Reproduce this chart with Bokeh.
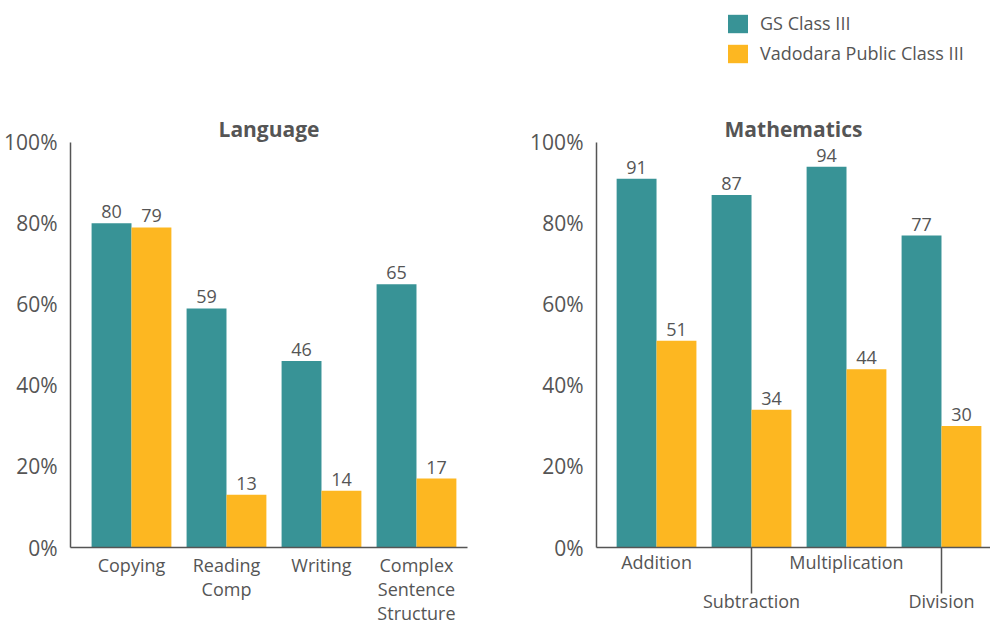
from bokeh.plotting import figure
from bokeh.layouts import row
from bokeh.models import (Range1d, FixedTicker, Label, Legend, LegendItem,
                          ColumnDataSource, PrintfTickFormatter)
from bokeh.embed import file_html
from bokeh.resources import INLINE
from bokeh.core.properties import value

# ---------------- data ----------------
series = ["GS Class III", "Vadodara Public Class III"]

lang_title = "Language"
lang_categories = ["Copying", "Reading\nComp", "Writing", "Complex\nSentence\nStructure"]
lang_gs = [80, 59, 46, 65]
lang_vad = [79, 13, 14, 17]

math_title = "Mathematics"
math_categories = ["Addition", "Subtraction", "Multiplication", "Division"]
math_gs = [91, 87, 94, 77]
math_vad = [51, 34, 44, 30]

y_ticks = [0, 20, 40, 60, 80, 100]

# ---------------- style ----------------
TEAL = "#389396"
GOLD = "#FDB721"
TXT = "#555555"
FONT = "Open Sans"
H = 627
BOTTOM = 78
Y_END = 135.0
BAR_W = 0.42
OFF = 0.21


def make_panel(title, cats, gs, vad, width, left_border, right_border, x_start, x_end):
    p = figure(width=width, height=H, output_backend="svg", toolbar_location=None,
               x_range=Range1d(x_start, x_end), y_range=Range1d(0, Y_END),
               min_border_left=left_border, min_border_right=right_border,
               min_border_top=0, min_border_bottom=BOTTOM)
    p.outline_line_color = None
    p.xgrid.visible = False
    p.ygrid.visible = False

    idx = list(range(len(cats)))
    src = ColumnDataSource(dict(
        x=idx, gs=gs, vad=vad,
        xg=[i - OFF for i in idx], xv=[i + OFF for i in idx],
        gs_t=[str(v) for v in gs], vad_t=[str(v) for v in vad]))

    r1 = p.vbar(x="xg", top="gs", width=BAR_W, bottom=0, source=src,
                fill_color=TEAL, line_color=None)
    r2 = p.vbar(x="xv", top="vad", width=BAR_W, bottom=0, source=src,
                fill_color=GOLD, line_color=None)
    for xc, yc, tc in (("xg", "gs", "gs_t"), ("xv", "vad", "vad_t")):
        p.text(x=xc, y=yc, text=tc, source=src, text_align="center",
               text_baseline="bottom", y_offset=-5, text_color=TXT,
               text_font=value(FONT), text_font_size="18px")

    p.add_layout(Label(x=(x_start + x_end) / 2, y=103.4, text=title,
                       text_align="center", text_baseline="middle",
                       text_font=FONT, text_font_style="bold",
                       text_font_size="21px", text_color=TXT))

    ya = p.yaxis[0]
    ya.ticker = FixedTicker(ticks=y_ticks)
    ya.formatter = PrintfTickFormatter(format="%d%%")
    ya.bounds = (0, 100)
    ya.major_tick_line_color = None
    ya.minor_tick_line_color = None
    ya.axis_line_color = TXT
    ya.axis_line_width = 1.5
    ya.major_label_standoff = 7
    ya.major_label_text_font = FONT
    ya.major_label_text_font_size = "21px"
    ya.major_label_text_color = TXT

    xa = p.xaxis[0]
    xa.axis_line_color = TXT
    xa.axis_line_width = 1.5
    xa.major_tick_line_color = None
    xa.major_label_text_font = FONT
    xa.major_label_text_font_size = "18px"
    xa.major_label_text_color = TXT
    return p, r1, r2


# Language panel
p1, _, _ = make_panel(lang_title, lang_categories, lang_gs, lang_vad,
                      width=500, left_border=70, right_border=33,
                      x_start=-0.642, x_end=3.537)
xa1 = p1.xaxis[0]
xa1.ticker = FixedTicker(ticks=list(range(len(lang_categories))))
xa1.major_label_overrides = {i: c for i, c in enumerate(lang_categories)}
xa1.minor_tick_line_color = None
xa1.major_label_text_line_height = 1.0
xa1.major_label_standoff = -1

# Mathematics panel
p2, r1, r2 = make_panel(math_title, math_categories, math_gs, math_vad,
                        width=490, left_border=96, right_border=0,
                        x_start=-0.632, x_end=3.516)
xa2 = p2.xaxis[0]
xa2.ticker = FixedTicker(ticks=list(range(len(math_categories))),
                         minor_ticks=[i for i in range(len(math_categories)) if i % 2 == 1])
xa2.major_label_overrides = {i: (c if i % 2 == 0 else "\n" + c)
                             for i, c in enumerate(math_categories)}
xa2.major_label_text_line_height = 1.63
xa2.minor_tick_in = 0
xa2.minor_tick_out = 46
xa2.minor_tick_line_color = TXT
xa2.minor_tick_line_width = 1.5
xa2.major_label_standoff = 2 - 46

legend = Legend(items=[LegendItem(label=series[0], renderers=[r1]),
                       LegendItem(label=series[1], renderers=[r2])],
                location=(129, 482), orientation="vertical",
                glyph_width=25, glyph_height=23, spacing=6, label_standoff=10,
                padding=0, margin=0, border_line_color=None,
                background_fill_alpha=0, label_text_font=FONT,
                label_text_font_size="18px", label_text_color=TXT)
p2.add_layout(legend, "center")

layout = row(p1, p2)
open("out.html", "w").write(file_html(layout, INLINE))
